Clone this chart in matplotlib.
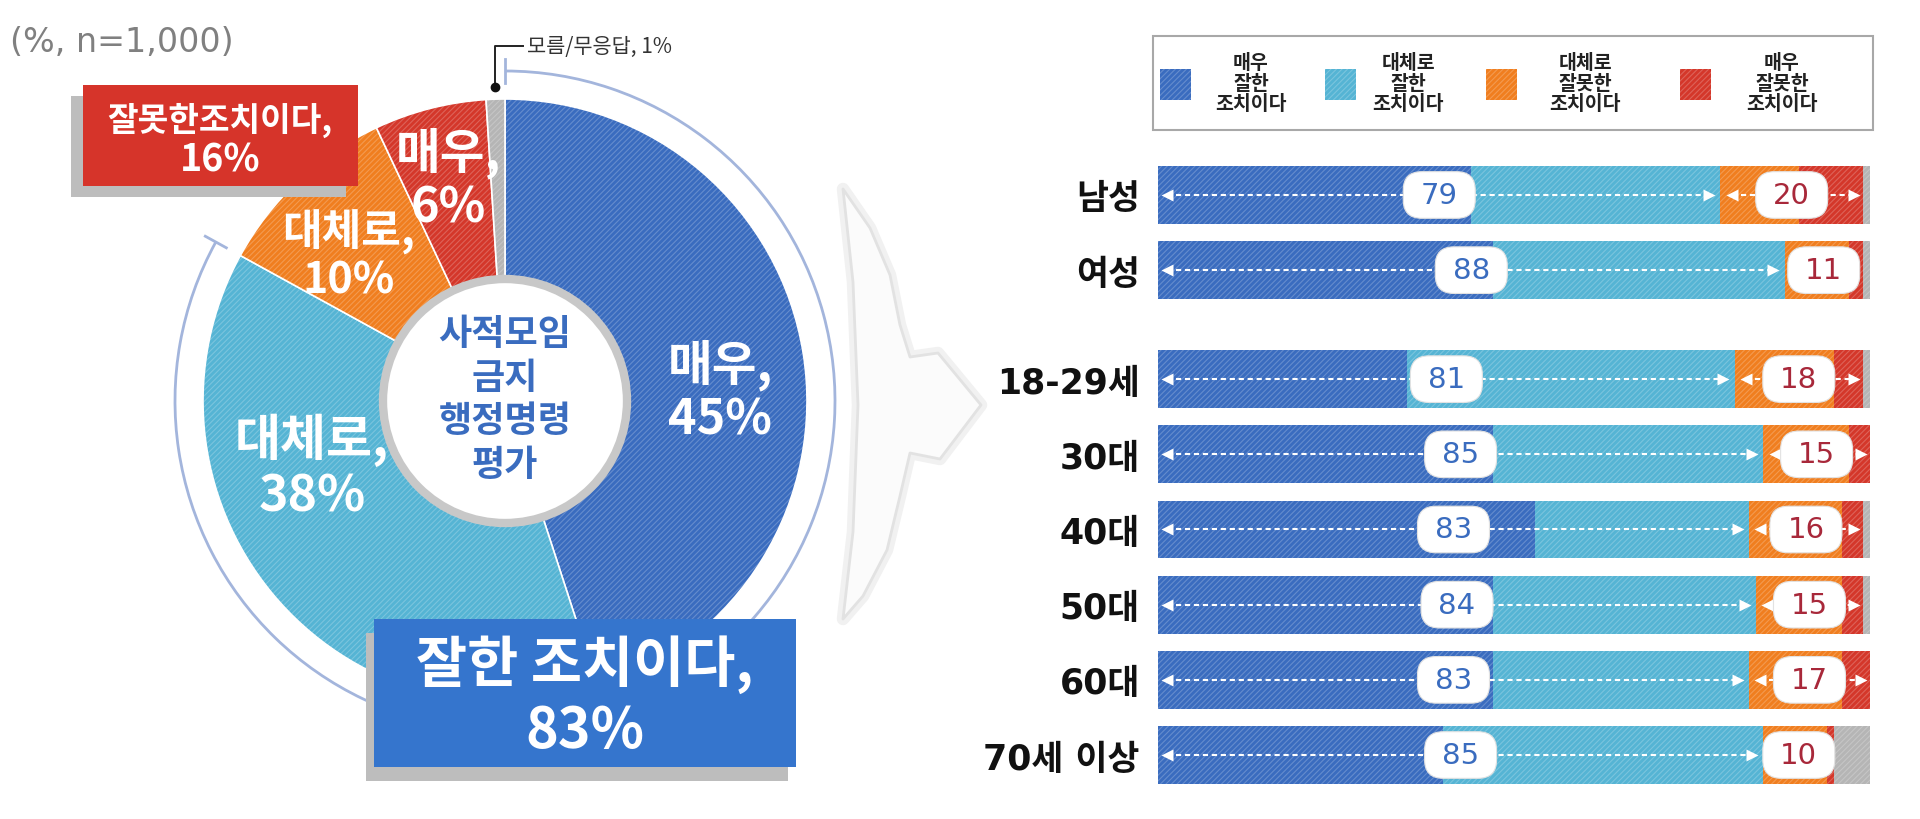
import numpy as np
import matplotlib
matplotlib.use("Agg")
import matplotlib.pyplot as plt
from matplotlib.patches import Rectangle, Circle, Arc, Polygon, FancyBboxPatch

plt.rcParams['font.family'] = ['Noto Sans CJK KR', 'DejaVu Sans']
plt.rcParams['hatch.linewidth'] = 0.8
latin_first = ['DejaVu Sans', 'Noto Sans CJK KR']

# overall result (donut)
pie_names = ["매우", "대체로", "대체로", "매우", "모름/무응답"]
pie_values = [45, 38, 10, 6, 1]
good_total = 83
bad_total = 16
sample_note = "(%, n=1,000)"
center_title = "사적모임\n금지\n행정명령\n평가"

# by group (stacked bars)
groups = ["남성", "여성", "18-29세", "30대", "40대", "50대", "60대", "70세 이상"]
very_good = [44, 47, 35, 47, 53, 47, 47, 40]
fair_good = [35, 41, 46, 38, 30, 37, 36, 45]
fair_bad = [11, 9, 14, 12, 13, 12, 13, 9]
very_bad = [9, 2, 4, 3, 3, 3, 4, 1]
dont_know = [1, 1, 1, 0, 1, 1, 0, 5]
good_sum = [79, 88, 81, 85, 83, 84, 83, 85]
bad_sum = [20, 11, 18, 15, 16, 15, 17, 10]
legend_labels = ["매우\n잘한\n조치이다", "대체로\n잘한\n조치이다",
                 "대체로\n잘못한\n조치이다", "매우\n잘못한\n조치이다"]

colors = ["#3a6cbf", "#55b4d4", "#f07e1f", "#d4372a", "#b5b5b5"]
hatch_col = (1, 1, 1, 0.22)

W, H = 1920, 820
fig = plt.figure(figsize=(19.2, 8.2), dpi=100)
bg = fig.add_axes([0, 0, 1, 1])


def Y(y):
    # positions measured from the top of the picture
    return H - y


# ---- donut ----
cx, cy, R, r_in = 505, Y(402), 302, 120
bg.pie(pie_values, colors=colors, startangle=90, counterclock=False,
       radius=R, center=(cx, cy),
       wedgeprops=dict(width=R - r_in, edgecolor="white", linewidth=1.2))
bg.pie(pie_values, colors=colors, startangle=90, counterclock=False,
       radius=R, center=(cx, cy),
       wedgeprops=dict(width=R - r_in, fill=False, hatch="//////",
                       edgecolor=hatch_col, linewidth=0))
bg.set_xlim(0, W)
bg.set_ylim(0, H)
bg.axis("off")

bg.add_patch(Circle((cx, cy), r_in + 2, fc="white", ec="#c8c8c8", lw=6, zorder=3))
bg.text(cx, Y(400), center_title, ha="center", va="center", fontsize=26,
        fontweight="bold", color="#3a6cbf", linespacing=1.22, zorder=4)

slice_pos = [(720, 392), (312, 468), (349, 256), (448, 180)]
slice_fs = [35, 36, 31, 35]
for name, v, (tx, ty), fs in zip(pie_names[:4], pie_values[:4], slice_pos, slice_fs):
    bg.text(tx, Y(ty), f"{name},\n{v}%", ha="center", va="center", fontsize=fs,
            fontweight="bold", color="white", linespacing=1.12, zorder=4)

# bracket arc around the "good" part
r_arc = 330
span = good_total * 3.6
bg.add_patch(Arc((cx, cy), 2 * r_arc, 2 * r_arc, theta1=90 - span, theta2=90,
                 color="#a3b5dc", lw=2, zorder=2))
for ang in [90, 90 - span]:
    a = np.radians(ang)
    bg.plot([cx + 318 * np.cos(a), cx + 342 * np.cos(a)],
            [cy + 318 * np.sin(a), cy + 342 * np.sin(a)],
            color="#a3b5dc", lw=2, zorder=2)

# leader for the 1% slice
mid = 90 - (sum(pie_values[:4]) + pie_values[4] / 2) * 3.6
dx = cx + (R + 12) * np.cos(np.radians(mid))
dy = cy + (R + 12) * np.sin(np.radians(mid))
bg.plot([dx, dx, dx + 28], [dy, Y(47), Y(47)], color="#222222", lw=1.4, zorder=4)
bg.plot(dx, dy, "o", ms=6, color="#111111", zorder=4)
bg.text(dx + 32, Y(47), f"{pie_names[4]}, {pie_values[4]}%", ha="left", va="center",
        fontsize=15, color="#333333")

bg.text(10, Y(42), sample_note, ha="left", va="center", fontsize=24, color="#808080",
        family=latin_first)

# summary boxes
bg.add_patch(Rectangle((71, Y(198)), 275, 101, fc="#bdbdbd", zorder=5))
bg.add_patch(Rectangle((83, Y(187)), 275, 101, fc="#d6342a", zorder=6))
bg.text(220, Y(120), "잘못한조치이다,", ha="center", va="center",
        fontsize=24, fontweight="bold", color="white", zorder=7)
bg.text(220, Y(160), f"{bad_total}%", ha="center", va="center",
        fontsize=27, fontweight="bold", color="white", zorder=7)

bg.add_patch(Rectangle((366, Y(782)), 422, 148, fc="#bdbdbd", zorder=5))
bg.add_patch(Rectangle((374, Y(768)), 422, 148, fc="#3575cd", zorder=6))
bg.text(585, Y(697), f"잘한 조치이다,\n{good_total}%", ha="center", va="center",
        fontsize=40, fontweight="bold", color="white", linespacing=1.2, zorder=7)

# chevron between the panels
chev = [(843, 190), (870, 229), (890, 276), (900, 326), (910, 358), (938, 354),
        (981, 406), (940, 460), (910, 454), (900, 497), (887, 551), (863, 597),
        (843, 620), (853, 533), (858, 406), (853, 283)]
chev = [(x, Y(y)) for x, y in chev]
bg.add_patch(Polygon(chev, closed=True, fc="white", ec="#f1f1f1", lw=9,
                     zorder=1, joinstyle="round"))
bg.add_patch(Polygon(chev, closed=True, fc="#fbfbfb", ec="#e2e2e2", lw=2,
                     zorder=1, joinstyle="round"))

# legend
bg.add_patch(Rectangle((1153, Y(131)), 720, 94, fc="white", ec="#a8a8a8", lw=1.5))
patch_x = [1160, 1325, 1486, 1680]
text_x = [1251, 1408, 1585, 1782]
for c, px, tx, lab in zip(colors[:4], patch_x, text_x, legend_labels):
    bg.add_patch(Rectangle((px, Y(101)), 31, 31, fc=c, ec="none"))
    bg.add_patch(Rectangle((px, Y(101)), 31, 31, fill=False, hatch="//////",
                           ec=hatch_col, lw=0))
    bg.text(tx, Y(84), lab, ha="center", va="center", fontsize=14,
            fontweight="bold", color="#222222", linespacing=1.12)

# ---- stacked bars ----
ypos = [0, 1, 2.45, 3.45, 4.45, 5.45, 6.45, 7.45]
unit = 75.2
top_px = 196 - 0.5 * unit
bot_px = 756 + 0.5 * unit
x0, x1 = 1158, 1870
ax = fig.add_axes([x0 / W, (H - bot_px) / H, (x1 - x0) / W, (bot_px - top_px) / H])
ax.set_facecolor("none")

left = np.zeros(len(groups))
for vals, c in zip([very_good, fair_good, fair_bad, very_bad, dont_know], colors):
    vals = np.array(vals, dtype=float)
    ax.barh(ypos, vals, left=left, height=0.77, color=c, edgecolor="none", zorder=2)
    ax.barh(ypos, vals, left=left, height=0.77, fill=False, hatch="//////",
            edgecolor=hatch_col, linewidth=0, zorder=3)
    left += vals

ax.set_xlim(0, 100)
ax.set_ylim(max(ypos) + 0.5, -0.5)
ax.set_xticks([])
ax.set_yticks(ypos, groups)
ax.tick_params(axis="y", length=0, pad=13, labelsize=25)
for t in ax.get_yticklabels():
    t.set_fontweight("bold")
    t.set_color("#111111")
    t.set_fontfamily(latin_first)
for s in ax.spines.values():
    s.set_visible(False)

px_per_x = (x1 - x0) / 100
bw, bh = 72 / px_per_x, 0.62
asp = px_per_x / unit


def arrow_span(a, b, y):
    ax.plot([a, b], [y, y], color="white", lw=1.5, ls=(0, (2.5, 1.8)), zorder=4)
    ax.plot(a, y, marker="<", ms=9, color="white", mec="none", zorder=4)
    ax.plot(b, y, marker=">", ms=9, color="white", mec="none", zorder=4)


def label_box(x, y, txt, col):
    ax.add_patch(FancyBboxPatch((x - bw / 2, y - bh / 2), bw, bh,
                                boxstyle="round,pad=0,rounding_size=2.6",
                                mutation_aspect=asp, fc="white", ec="#e2e2e2",
                                lw=0.8, zorder=5))
    ax.text(x, y, txt, ha="center", va="center", fontsize=21, color=col,
            family=latin_first, zorder=6)


for y, g, b in zip(ypos, good_sum, bad_sum):
    arrow_span(1.3, g - 1.6, y)
    if b >= 13:
        arrow_span(g + 1.6, g + b - 1.2, y)
    label_box(g / 2, y, str(g), "#3a6cbf")
    label_box(g + b / 2, y, str(b), "#a8283a")

fig.savefig("out.png", dpi=100)
